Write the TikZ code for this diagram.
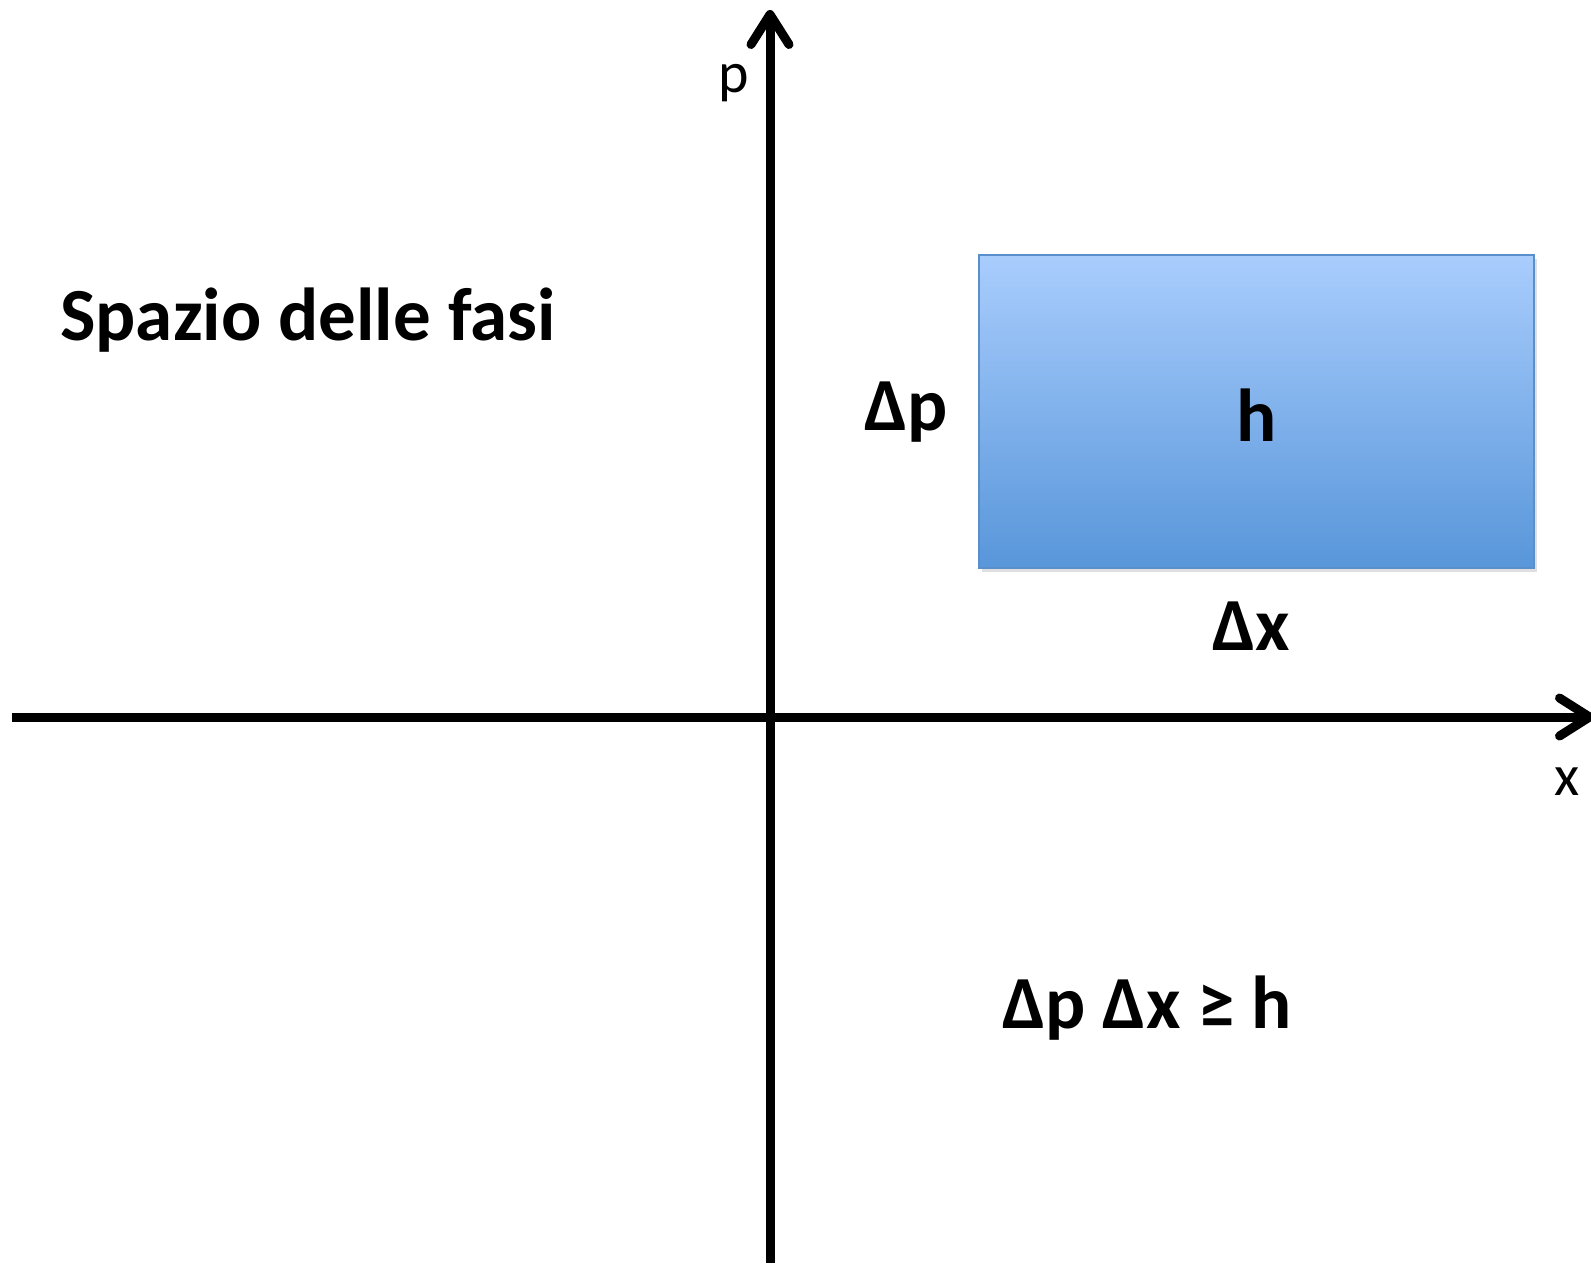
\documentclass[tikz,border=0pt]{standalone}
\usepackage{fontspec}
\setmainfont{Carlito}
\usetikzlibrary{arrows.meta,shadows}
\definecolor{boxtop}{HTML}{A9CDFD}
\definecolor{boxbot}{HTML}{5896DA}
\definecolor{boxedge}{HTML}{5B8FCB}
\tikzset{
  axis/.style={line width=9pt,-{Straight Barb[length=30pt,width=38pt,line cap=round,line join=round]}},
  bigbold/.style={font=\fontsize{75}{90}\selectfont\bfseries,inner sep=0pt},
  axlabel/.style={font=\fontsize{58}{68}\selectfont,inner sep=0pt},
  cellbox/.style={draw=boxedge,line width=2pt,top color=boxtop,bottom color=boxbot,
    drop shadow={shadow xshift=3pt,shadow yshift=-4pt,opacity=0.25}}
}
\begin{document}
\begin{tikzpicture}[x=1pt,y=-1pt]
\useasboundingbox (0,0) rectangle (1591,1266);
\coordinate (xs) at (12,717);
\coordinate (xe) at (1594,717);
\coordinate (ps) at (770,1263);
\coordinate (pe) at (770,10);
\draw[axis] (xs) -- (xe);
\draw[axis] (ps) -- (pe);
\node[axlabel,anchor=base] (plab) at (734,92) {p};
\node[axlabel,anchor=base] (xlab) at (1567,795) {x};
\path[cellbox] (979,255) rectangle (1534,568);
\node[bigbold,anchor=base] (h) at (1257,441) {h};
\node[bigbold,anchor=base west] (title) at (60,340) {Spazio delle fasi};
\node[bigbold,anchor=base west] (dp) at (864,430) {Δp};
\node[bigbold,anchor=base] (dx) at (1251,650) {Δx};
\node[bigbold,anchor=base west] (rel) at (1002,1028) {Δp Δx ≥ h};
\end{tikzpicture}
\end{document}
